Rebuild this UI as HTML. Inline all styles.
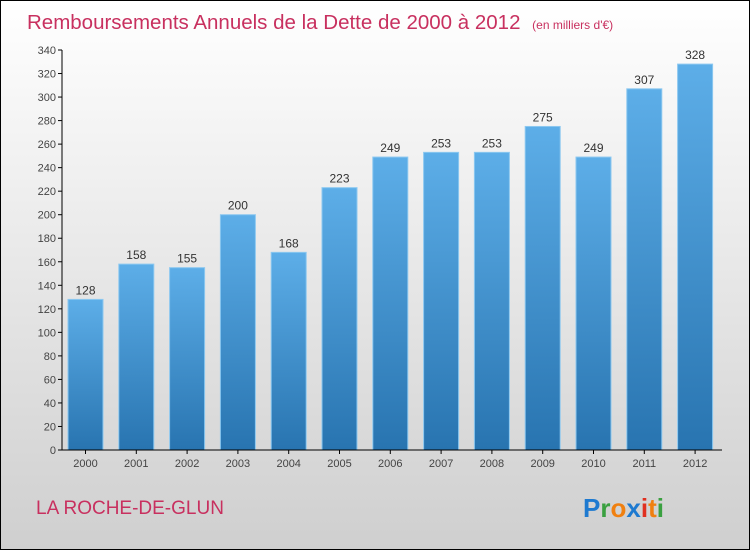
<!DOCTYPE html>
<html><head><meta charset="utf-8"><style>
body{margin:0;}
#c{width:748px;height:548px;border:1px solid #000;background:linear-gradient(#ffffff,#cfcfcf);position:relative;overflow:hidden;font-family:"Liberation Sans",sans-serif;}
</style></head><body>
<div id="c">
<svg id="s" width="748" height="548" xmlns="http://www.w3.org/2000/svg">
<defs><linearGradient id="g" x1="0" y1="0" x2="0" y2="1"><stop offset="0" stop-color="#5daee8"/><stop offset="1" stop-color="#2874b0"/></linearGradient></defs>
<text x="26" y="28" font-size="20.5" fill="#c8305f">Remboursements Annuels de la Dette de 2000 à 2012 <tspan font-size="12" dx="6">(en milliers d'€)</tspan></text>
<text x="35" y="513" font-size="19" fill="#c8305f">LA ROCHE-DE-GLUN</text>
<g font-size="26" font-weight="bold" font-family="'Liberation Sans',sans-serif">
<text x="582" y="516"><tspan fill="#1e7ad0">P</tspan><tspan fill="#3aa040">r</tspan><tspan fill="#f08010">o</tspan><tspan fill="#1e7ad0">x</tspan><tspan fill="#e03020">i</tspan><tspan fill="#f08010">t</tspan><tspan fill="#3aa040">i</tspan></text></g>
<g id="plot"></g>
</svg></div>
<script>
const years=["2000","2001","2002","2003","2004","2005","2006","2007","2008","2009","2010","2011","2012"];
const values=[128,158,155,200,168,223,249,253,253,275,249,307,328];
const ticks=[0,20,40,60,80,100,120,140,160,180,200,220,240,260,280,300,320,340];
const NS="http://www.w3.org/2000/svg";
const g=document.getElementById('plot');
const y0=449,ymax=340,yTop=49;
const y=v=>y0-(y0-yTop)*v/ymax;
const x=i=>84.5+i*50.8;
function mk(t,a,p){const e=document.createElementNS(NS,t);for(const k in a)e.setAttribute(k,a[k]);(p||g).appendChild(e);return e;}
ticks.forEach(t=>{
 const l=mk('line',{x1:57,x2:61,y1:y(t),y2:y(t),stroke:'#000'});
 
 
 const tx=mk('text',{x:55,y:y(t)+4,'text-anchor':'end','font-size':11,fill:'#444'});
 tx.textContent=t;
 
 
});
values.forEach((v,i)=>{
 const r=mk('rect',{x:x(i)-17.5,y:y(v),width:35,height:y0-y(v),fill:'url(#g)',stroke:'#8cc8f0','stroke-width':1});
 
 
 const t=mk('text',{x:x(i),y:y(v)-5,'text-anchor':'middle','font-size':12,fill:'#333'});
 t.textContent=v;
 
 
 const tk=mk('line',{x1:x(i),x2:x(i),y1:y0,y2:y0+4,stroke:'#000'});
 
 
 const xl=mk('text',{x:x(i),y:466,'text-anchor':'middle','font-size':11,fill:'#444'});
 xl.textContent=years[i];
 
 
});
const ya=mk('line',{x1:61,x2:61,y1:yTop,y2:y0,stroke:'#000'});


const xa=mk('line',{x1:61,x2:721,y1:y0,y2:y0,stroke:'#000'});


</script>
</body></html>
